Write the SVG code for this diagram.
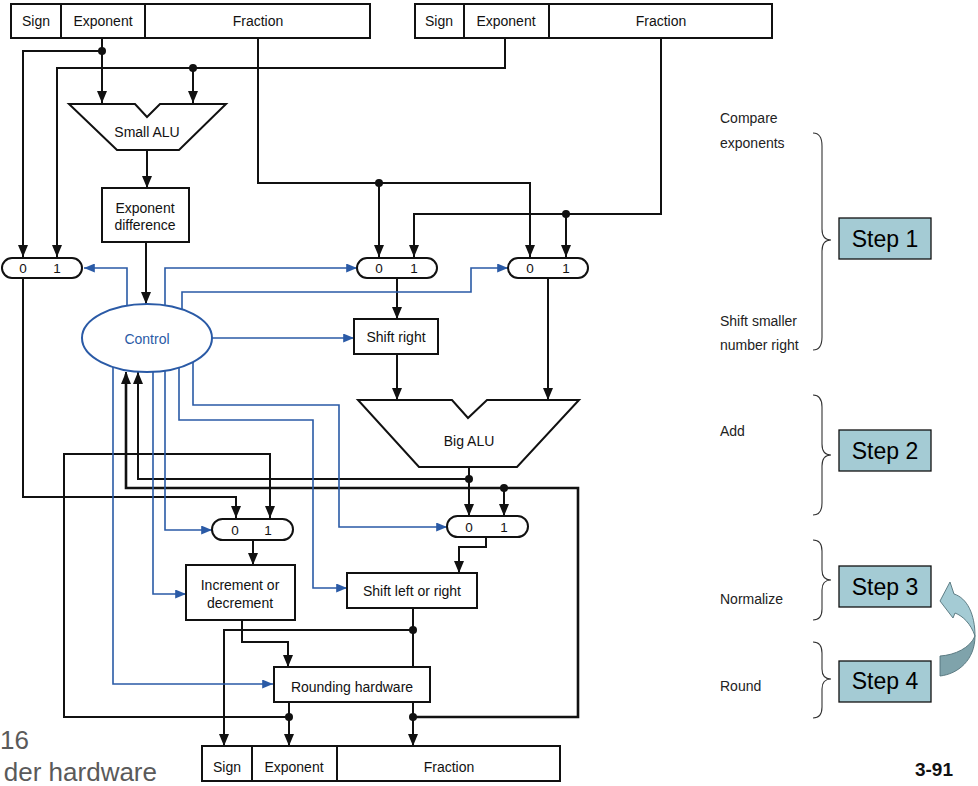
<svg xmlns="http://www.w3.org/2000/svg" width="978" height="786" viewBox="0 0 978 786">
  <style>
    text { font-family: "Liberation Sans", Arial, sans-serif; fill: #111; }
    .lbl { font-size: 14px; text-anchor: middle; }
    .dig { font-size: 13.5px; text-anchor: middle; }
    .note { font-size: 14px; fill: #222; }
    .step { font-size: 23px; text-anchor: middle; fill: #000; }
    .box { fill: #fff; stroke: #111; stroke-width: 2; }
    .mux { fill: #fff; stroke: #111; stroke-width: 2; }
    .w { fill: none; stroke: #111; stroke-width: 2; stroke-linejoin: miter; }
    .wk { fill: none; stroke: #111; stroke-width: 2.6; }
    .b { fill: none; stroke: #2a5aa6; stroke-width: 1.6; }
    .dot { fill: #111; }
    .brace { fill: none; stroke: #333; stroke-width: 1.1; }
    .stepbox { fill: #a4cbd4; stroke: #111; stroke-width: 1.3; }
    .side { font-size: 26px; fill: #5a5a5a; }
  </style>
  <defs>
    <marker id="ah" viewBox="0 0 12 10" refX="12" refY="5" markerWidth="12" markerHeight="10" orient="auto" markerUnits="userSpaceOnUse">
      <path d="M0,0 L12,5 L0,10 z" fill="#111"/>
    </marker>
    <marker id="ahb" viewBox="0 0 12 10" refX="12" refY="5" markerWidth="12" markerHeight="9" orient="auto" markerUnits="userSpaceOnUse">
      <path d="M0,0 L12,5 L0,10 z" fill="#2a5aa6"/>
    </marker>
  </defs>

  <!-- data and control wiring -->
  <g id="connectors">
    <!-- black data paths -->
    <path class="w" d="M102,38 V103" marker-end="url(#ah)"/>
    <path class="w" d="M102,51 H23 V257" marker-end="url(#ah)"/>
    <path class="w" d="M505,38 V68 H57 V257" marker-end="url(#ah)"/>
    <path class="w" d="M193,68 V103" marker-end="url(#ah)"/>
    <path class="w" d="M147,150 V188" marker-end="url(#ah)"/>
    <path class="w" d="M146,242 V304" marker-end="url(#ah)"/>
    <path class="w" d="M258,38 V183 H530 V257" marker-end="url(#ah)"/>
    <path class="w" d="M379,183 V257" marker-end="url(#ah)"/>
    <path class="w" d="M661,38 V214 H414 V257" marker-end="url(#ah)"/>
    <path class="w" d="M566,214 V257" marker-end="url(#ah)"/>
    <path class="w" d="M397,278 V319" marker-end="url(#ah)"/>
    <path class="w" d="M397,354 V400" marker-end="url(#ah)"/>
    <path class="w" d="M548,278 V400" marker-end="url(#ah)"/>
    <path class="w" d="M469,467 V516" marker-end="url(#ah)"/>
    <path class="w" d="M469,479 H138 V372" marker-end="url(#ah)"/>
    <path class="w" d="M23,278 V497 H236 V518" marker-end="url(#ah)"/>
    <path class="w" d="M413,702 V746" marker-end="url(#ah)"/>
    <path class="wk" d="M413,717 H578 V488 H126 V374"/>
    <path class="w" d="M126,380 V372" marker-end="url(#ah)"/>
    <path class="w" d="M504,488 V516" marker-end="url(#ah)"/>
    <path class="w" d="M289,702 V746" marker-end="url(#ah)"/>
    <path class="w" d="M289,717 H64 V454 H270 V518" marker-end="url(#ah)"/>
    <path class="w" d="M253,541 V565" marker-end="url(#ah)"/>
    <path class="w" d="M242,620 V642 H288 V667" marker-end="url(#ah)"/>
    <path class="w" d="M486,537 V547 H459 V573" marker-end="url(#ah)"/>
    <path class="w" d="M413,608 V667"/>
    <path class="w" d="M413,630 H224 V746" marker-end="url(#ah)"/>

    <!-- junction dots -->
    <circle class="dot" cx="102" cy="51" r="4"/>
    <circle class="dot" cx="193" cy="68" r="4"/>
    <circle class="dot" cx="379" cy="183" r="4"/>
    <circle class="dot" cx="566" cy="214" r="4"/>
    <circle class="dot" cx="469" cy="479" r="4"/>
    <circle class="dot" cx="504" cy="488" r="4"/>
    <circle class="dot" cx="413" cy="630" r="4"/>
    <circle class="dot" cx="289" cy="717" r="4"/>
    <circle class="dot" cx="413" cy="717" r="4"/>

    <!-- blue control lines -->
    <path class="b" d="M127,320 V268 H84" marker-end="url(#ahb)"/>
    <path class="b" d="M165,320 V268 H357" marker-end="url(#ahb)"/>
    <path class="b" d="M182,320 V292 H471 V268 H508" marker-end="url(#ahb)"/>
    <path class="b" d="M200,338 H354" marker-end="url(#ahb)"/>
    <path class="b" d="M193,355 V405 H339 V527 H447" marker-end="url(#ahb)"/>
    <path class="b" d="M179,355 V420 H313 V588 H347" marker-end="url(#ahb)"/>
    <path class="b" d="M165,355 V530 H212" marker-end="url(#ahb)"/>
    <path class="b" d="M153,355 V594 H186" marker-end="url(#ahb)"/>
    <path class="b" d="M113,355 V684 H273" marker-end="url(#ahb)"/>
  </g>

  <!-- input register A -->
  <g id="reg-a">
    <rect class="box" x="11" y="4" width="359" height="34"/>
    <path class="w" d="M61,4 V38 M145,4 V38"/>
    <text class="lbl" x="36" y="26">Sign</text>
    <text class="lbl" x="103" y="26">Exponent</text>
    <text class="lbl" x="258" y="26">Fraction</text>
  </g>

  <!-- input register B -->
  <g id="reg-b">
    <rect class="box" x="415" y="4" width="357" height="34"/>
    <path class="w" d="M464,4 V38 M549,4 V38"/>
    <text class="lbl" x="439" y="26">Sign</text>
    <text class="lbl" x="506" y="26">Exponent</text>
    <text class="lbl" x="661" y="26">Fraction</text>
  </g>

  <g id="small-alu">
    <polygon class="box" points="69,104 135,104 147,117 160,104 226,104 179,150 117,150"/>
    <text class="lbl" x="147" y="137">Small ALU</text>
  </g>

  <g id="exp-diff">
    <rect class="box" x="102" y="188" width="87" height="54"/>
    <text class="lbl" x="145" y="213">Exponent</text>
    <text class="lbl" x="145" y="230">difference</text>
  </g>

  <g id="control">
    <ellipse cx="147" cy="338" rx="65" ry="34" fill="#fff" stroke="#2a5aa6" stroke-width="2"/>
    <text class="lbl" x="147" y="344" style="fill:#2a5aa6">Control</text>
  </g>

  <g id="mux-exp">
    <rect class="mux" x="2" y="258" width="80" height="20" rx="10"/>
    <text class="dig" x="23" y="273">0</text>
    <text class="dig" x="57" y="273">1</text>
  </g>

  <g id="mux-small">
    <rect class="mux" x="357" y="258" width="80" height="20" rx="10"/>
    <text class="dig" x="379" y="273">0</text>
    <text class="dig" x="414" y="273">1</text>
  </g>

  <g id="mux-big">
    <rect class="mux" x="508" y="258" width="80" height="20" rx="10"/>
    <text class="dig" x="530" y="273">0</text>
    <text class="dig" x="566" y="273">1</text>
  </g>

  <g id="shift-right">
    <rect class="box" x="354" y="319" width="84" height="35"/>
    <text class="lbl" x="396" y="342">Shift right</text>
  </g>

  <g id="big-alu">
    <polygon class="box" points="358,400 452,400 468,418 487,400 579,400 517,467 419,467"/>
    <text class="lbl" x="469" y="446">Big ALU</text>
  </g>

  <g id="mux-exp2">
    <rect class="mux" x="212" y="519" width="81" height="21" rx="10.5"/>
    <text class="dig" x="235" y="535">0</text>
    <text class="dig" x="268" y="535">1</text>
  </g>

  <g id="mux-frac2">
    <rect class="mux" x="447" y="516" width="81" height="21" rx="10.5"/>
    <text class="dig" x="469" y="532">0</text>
    <text class="dig" x="504" y="532">1</text>
  </g>

  <g id="inc-dec">
    <rect class="box" x="186" y="565" width="109" height="55"/>
    <text class="lbl" x="240" y="590">Increment or</text>
    <text class="lbl" x="240" y="608">decrement</text>
  </g>

  <g id="shift-lr">
    <rect class="box" x="347" y="573" width="130" height="35"/>
    <text class="lbl" x="412" y="596">Shift left or right</text>
  </g>

  <g id="rounding">
    <rect class="box" x="274" y="667" width="156" height="35"/>
    <text class="lbl" x="352" y="692">Rounding hardware</text>
  </g>

  <!-- result register -->
  <g id="reg-out">
    <rect class="box" x="202" y="746" width="358" height="35"/>
    <path class="w" d="M252,746 V781 M337,746 V781"/>
    <text class="lbl" x="227" y="772">Sign</text>
    <text class="lbl" x="294" y="772">Exponent</text>
    <text class="lbl" x="449" y="772">Fraction</text>
  </g>

  <!-- step annotations -->
  <g id="step1">
    <text class="note" x="720" y="123">Compare</text>
    <text class="note" x="720" y="148">exponents</text>
    <text class="note" x="720" y="326">Shift smaller</text>
    <text class="note" x="720" y="350">number right</text>
    <path class="brace" d="M813,133 Q822,133 822,146 V229 Q822,240 831,240 Q822,240 822,251 V337 Q822,350 813,350"/>
    <rect class="stepbox" x="839" y="218" width="92" height="41"/>
    <text class="step" x="885" y="247">Step 1</text>
  </g>

  <g id="step2">
    <text class="note" x="720" y="436">Add</text>
    <path class="brace" d="M813,395 Q822,395 822,407 V444 Q822,455 831,455 Q822,455 822,466 V503 Q822,515 813,515"/>
    <rect class="stepbox" x="839" y="430" width="92" height="41"/>
    <text class="step" x="885" y="459">Step 2</text>
  </g>

  <g id="step3">
    <text class="note" x="720" y="604">Normalize</text>
    <path class="brace" d="M813,540 Q822,540 822,551 V570 Q822,580 831,580 Q822,580 822,590 V609 Q822,620 813,620"/>
    <rect class="stepbox" x="839" y="566" width="92" height="41"/>
    <text class="step" x="885" y="595">Step 3</text>
  </g>

  <g id="step4">
    <text class="note" x="720" y="691">Round</text>
    <path class="brace" d="M813,642 Q822,642 822,653 V669 Q822,679 831,679 Q822,679 822,689 V707 Q822,718 813,718"/>
    <rect class="stepbox" x="839" y="661" width="92" height="41"/>
    <text class="step" x="885" y="689">Step 4</text>
  </g>

  <!-- loop-back arrow from rounding to normalization -->
  <g id="loop-arrow">
    <path d="M975,636 C975,660 958,674 940,676 L940,656 C955,655 970,648 975,636 Z" fill="#7fa3ab" stroke="#52737b" stroke-width="0.9"/>
    <path d="M940,601 L950,582 L954,594 C967,598 975,614 975,636 C971,624 963,616 955,613 L953,618 Z" fill="#a4cbd4" stroke="#52737b" stroke-width="0.9"/>
  </g>

  <text x="953" y="776" style="font-size:19px;font-weight:bold;text-anchor:end">3-91</text>

  <!-- caption fragments at the left margin -->
  <text class="side" x="0" y="749">16</text>
  <text class="side" x="157" y="781" style="text-anchor:end">der hardware</text>
</svg>
